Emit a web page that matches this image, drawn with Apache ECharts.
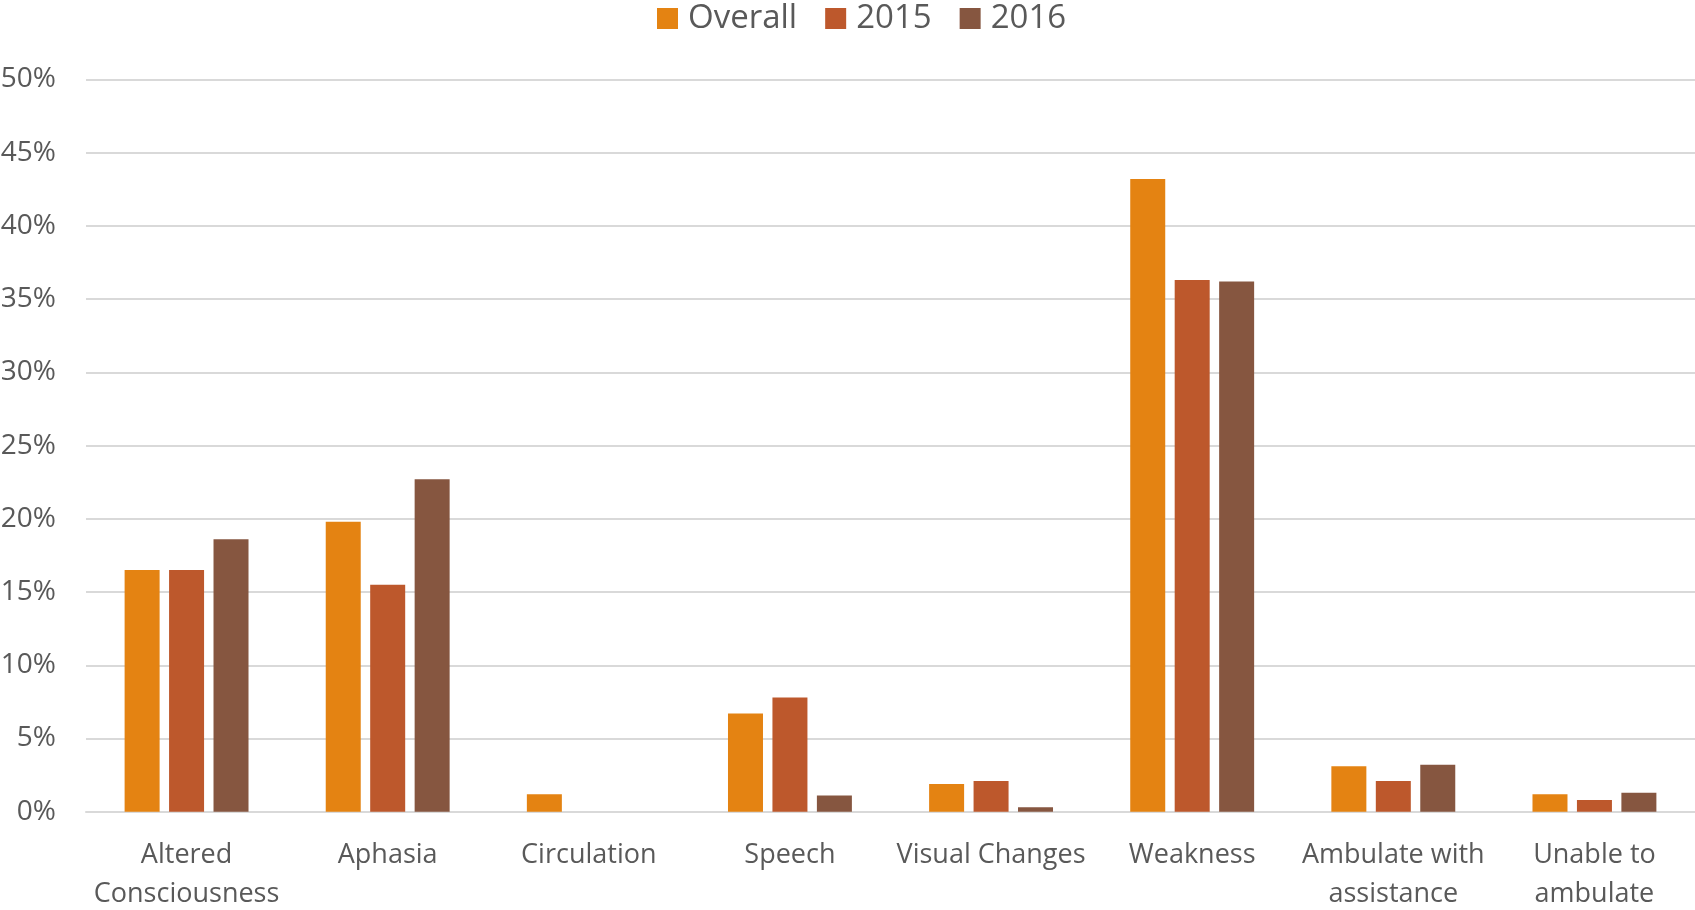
<!DOCTYPE html>
<html><head><meta charset="utf-8">
<script src="https://cdn.jsdelivr.net/npm/echarts@6/dist/echarts.min.js"></script>
<style>html,body{margin:0;padding:0;background:#fff}#c{width:1695px;height:910px}</style>
</head><body><div id="c"></div>
<script>
const categories = ['Altered\nConsciousness','Aphasia','Circulation','Speech','Visual Changes','Weakness','Ambulate with\nassistance','Unable to\nambulate'];
const seriesNames = ['Overall','2015','2016'];
const overall = [16.5, 19.8, 1.2, 6.7, 1.9, 43.2, 3.1, 1.2];
const y2015 = [16.5, 15.5, 0, 7.8, 2.1, 36.3, 2.1, 0.8];
const y2016 = [18.6, 22.7, 0, 1.1, 0.3, 36.2, 3.2, 1.3];
const yTicks = [0, 5, 10, 15, 20, 25, 30, 35, 40, 45, 50];
const colors = ['#E48312', '#BD582C', '#865640'];

const font = '"Open Sans", sans-serif';
const chart = echarts.init(document.getElementById('c'));
const mk = (name, data, i) => ({
  name, type: 'bar', data, barWidth: 35, barGap: '27%',
  itemStyle: { color: colors[i] }
});
chart.setOption({
  animation: false,
  textStyle: { fontFamily: font },
  legend: {
    top: 2, left: 657, padding: 0, itemWidth: 21, itemHeight: 21, itemGap: 28,
    icon: 'rect',
    textStyle: { fontSize: 33, color: '#595959', fontFamily: font, padding: [0, 0, 0, 5] },
    data: seriesNames
  },
  grid: { left: 86, right: 0, top: 79.5, bottom: 98.3, outerBoundsMode: 'none', containLabel: false },
  xAxis: {
    type: 'category', data: categories,
    axisLine: { lineStyle: { color: '#D9D9D9', width: 2 } },
    axisTick: { show: false },
    axisLabel: { color: '#595959', fontSize: 27, margin: 24, lineHeight: 39, fontFamily: font, interval: 0 }
  },
  yAxis: {
    type: 'value', min: yTicks[0], max: yTicks[yTicks.length - 1], interval: 5,
    axisLine: { show: false }, axisTick: { show: false },
    splitLine: { lineStyle: { color: '#D9D9D9', width: 2 } },
    axisLabel: { color: '#595959', fontSize: 28, margin: 30, fontFamily: font, formatter: v => v + '%' }
  },
  series: [mk(seriesNames[0], overall, 0), mk(seriesNames[1], y2015, 1), mk(seriesNames[2], y2016, 2)]
});
</script></body></html>
